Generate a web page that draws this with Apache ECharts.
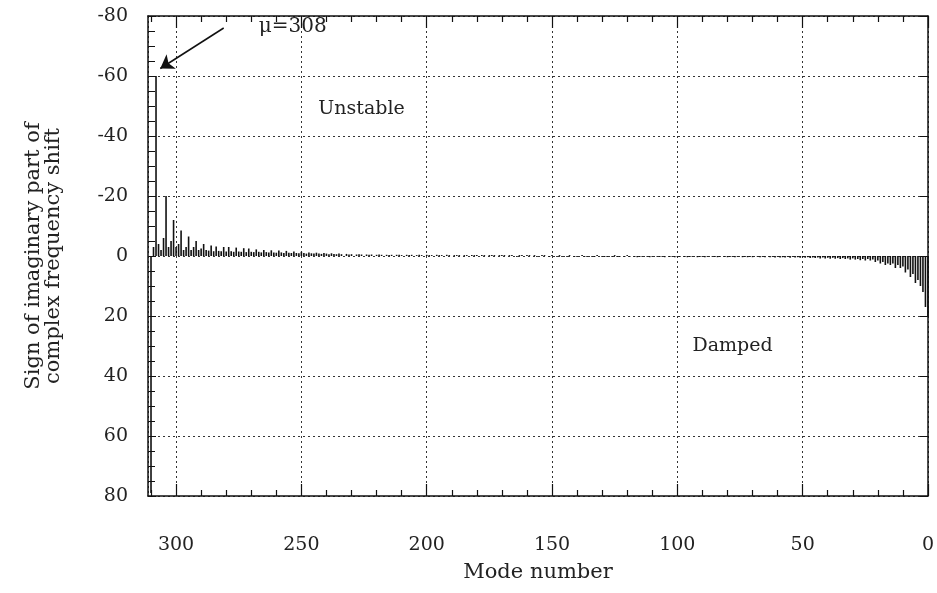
<!DOCTYPE html>
<html>
<head>
<meta charset="utf-8">
<script src="https://cdn.jsdelivr.net/npm/echarts@6/dist/echarts.min.js"></script>
<style>
html,body{margin:0;padding:0;background:#fff;}
#chart{width:937px;height:593px;}
</style>
</head>
<body>
<div id="chart"></div>
<script>
// Imaginary part of complex frequency shift, indexed by mode number (index 0 = mode 0)
const modeShift = [
  20, 17, 12, 10, 8, 9, 6, 7, 4.5, 5.5,
  3.5, 4, 3, 4, 2.5, 3, 2.5, 3, 2, 2.5,
  1.5, 2, 1.2, 1.5, 1, 1.5, 1, 1.4, 1, 1.2,
  0.8, 1.2, 0.8, 1, 0.7, 1, 0.7, 0.9, 0.6, 0.9,
  0.6, 0.8, 0.5, 0.8, 0.5, 0.7, 0.5, 0.7, 0.4, 0.6,
  0.4, 0.6, 0.4, 0.5, 0.3, 0.6, 0.3, 0.5, 0.4, 0.5,
  0.3, 0.5, 0.3, 0.4, 0, 0.4, 0.3, 0.4, 0.3, 0,
  0.4, 0.3, 0.4, 0.3, 0.4, 0, 0.3, 0.4, 0.3, 0.3,
  0.4, 0.3, 0, 0.3, 0.4, 0.3, 0.3, 0, 0.3, 0.4,
  0.3, 0.3, 0.4, 0, 0.3, 0.3, 0.4, 0.3, 0, 0.3,
  0.3, 0.4, 0.3, 0.3, 0, 0.4, 0.3, 0.3, 0.3, 0,
  0.3, 0.4, 0.3, 0, 0.3, 0.3, 0.4, 0.3, 0, 0.3,
  -0.3, 0.3, 0, 0.3, 0.3, -0.3, 0.3, 0, 0.3, 0.3,
  0.3, 0, -0.3, 0.3, 0.3, 0, 0.3, 0.3, -0.3, 0,
  0.3, 0.3, 0, -0.3, 0.3, 0, 0.3, -0.3, 0.3, 0,
  -0.3, 0.3, 0, -0.3, -0.3, 0, 0.3, -0.3, 0, -0.3,
  -0.3, 0, -0.3, -0.3, 0.3, 0, -0.3, -0.3, 0, -0.3,
  -0.3, -0.3, 0, -0.3, -0.3, -0.3, 0, -0.3, -0.3, 0,
  -0.3, -0.3, -0.3, 0, -0.3, -0.3, 0, -0.3, -0.3, -0.3,
  0, -0.3, -0.4, 0, -0.3, -0.3, -0.4, 0, -0.3, -0.3,
  -0.4, 0, -0.3, -0.4, -0.3, 0, -0.4, -0.3, -0.4, 0,
  -0.3, -0.4, -0.4, 0, -0.4, -0.3, -0.4, 0, -0.4, -0.5,
  -0.4, 0, -0.5, -0.4, -0.5, 0, -0.5, -0.6, -0.5, 0,
  -0.6, -0.5, -0.7, 0, -0.6, -0.8, -0.6, -0.7, -0.9, -0.6,
  -0.8, -1, -0.7, -0.8, -1.1, -0.8, -0.9, -1.2, -0.8, -1,
  -1.4, -0.9, -1, -1.5, -1, -1.1, -1.7, -1, -1.2, -1.8,
  -1.1, -1.2, -1.9, -1.2, -1.3, -2, -1.2, -1.4, -2.2, -1.3,
  -1.4, -2.5, -1.3, -2.6, -1.4, -1.5, -2.8, -1.4, -1.6, -3,
  -1.5, -3, -1.6, -1.7, -3.2, -1.6, -3.5, -1.8, -2, -4,
  -2.5, -2, -5, -3, -2, -6.5, -3, -2, -8.5, -4,
  -3, -12, -5, -3, -20, -6, -2, -4, -60, -3,
  79, 0
];

const xRange = [0, 311.2];
const yRange = [-80, 80];
const xTickStep = 50;
const yTickStep = 20;

// Tick positions on the top and bottom frame (mode numbers)
const majorTickModes = [0, 50, 100, 150, 200, 250, 300];
const minorTickModes = [10, 20, 30, 40, 60, 70, 80, 90, 110, 120, 130, 140, 160, 170, 180, 190,
                        210, 220, 230, 240, 260, 270, 280, 290, 310];
const majorTickLen = 4;   // in y data units
const minorTickLen = 2;

// Annotations (in data coordinates)
const peakLabel = { text: 'μ=308', mode: 267, value: -76.5 };
const arrowFrom = [281, -76];
const arrowTo = [306.3, -62.5];
const unstableLabel = { text: 'Unstable', mode: 226, value: -49 };
const dampedLabel = { text: 'Damped', mode: 78, value: 30 };

const FONT = 'DejaVu Serif';
const INK = '#222';

const chart = echarts.init(document.getElementById('chart'), null, { renderer: 'canvas' });

const gridStyle = { show: true, lineStyle: { color: '#333', type: [2, 3], width: 1 } };
const axisLine = { show: true, onZero: false, lineStyle: { color: '#111', width: 1.5 } };

function frameTicks(modes, len) {
  const out = [];
  modes.forEach(m => {
    out.push([{ coord: [m, yRange[1]] }, { coord: [m, yRange[1] - len] }]);
    out.push([{ coord: [m, yRange[0]] }, { coord: [m, yRange[0] + len] }]);
  });
  return out;
}

const option = {
  animation: false,
  backgroundColor: '#fff',
  grid: { left: 148, right: 9, top: 16, bottom: 97, containLabel: false },
  xAxis: [
    {
      type: 'value', position: 'bottom', inverse: true,
      min: xRange[0], max: xRange[1], interval: xTickStep,
      name: 'Mode number', nameLocation: 'middle', nameGap: 66,
      nameTextStyle: { fontFamily: FONT, fontSize: 21, color: INK },
      axisLine: axisLine,
      axisTick: { show: false },
      axisLabel: {
        margin: 40, fontFamily: FONT, fontSize: 19, color: INK, showMaxLabel: false,
        formatter: v => (v % xTickStep === 0 ? String(v) : '')
      },
      splitLine: gridStyle
    },
    {
      type: 'value', position: 'top', inverse: true,
      min: xRange[0], max: xRange[1], interval: xTickStep,
      axisLine: axisLine,
      axisTick: { show: false },
      axisLabel: { show: false },
      splitLine: { show: false }
    }
  ],
  yAxis: [
    {
      type: 'value', position: 'left', inverse: true,
      min: yRange[0], max: yRange[1], interval: yTickStep,
      name: 'Sign of imaginary part of\ncomplex frequency shift',
      nameLocation: 'middle', nameGap: 84, nameRotate: 90,
      nameTextStyle: { fontFamily: FONT, fontSize: 21, color: INK, lineHeight: 20 },
      axisLine: axisLine,
      axisTick: { show: true, inside: true, length: 8, lineStyle: { color: '#111' } },
      minorTick: { show: true, splitNumber: 4, length: 7, lineStyle: { color: '#111' } },
      axisLabel: { margin: 20, fontFamily: FONT, fontSize: 19, color: INK },
      splitLine: gridStyle
    },
    {
      type: 'value', position: 'right', inverse: true,
      min: yRange[0], max: yRange[1], interval: yTickStep,
      axisLine: axisLine,
      axisTick: { show: true, inside: true, length: 8, lineStyle: { color: '#111' } },
      minorTick: { show: false },
      axisLabel: { show: false },
      splitLine: { show: false }
    }
  ],
  series: [
    {
      type: 'bar',
      xAxisIndex: 0, yAxisIndex: 0,
      barWidth: 1.6,
      itemStyle: { color: '#111' },
      data: modeShift.map((v, i) => [i, v]),
      markLine: {
        silent: true,
        symbol: ['none', 'arrow'],
        symbolSize: 13,
        lineStyle: { color: '#111', width: 1.5, type: 'solid' },
        label: { show: false },
        data: [[{ coord: arrowFrom }, { coord: arrowTo }]]
      },
      markPoint: {
        silent: true,
        symbol: 'circle', symbolSize: 0,
        data: [
          { coord: [peakLabel.mode, peakLabel.value],
            label: { show: true, formatter: peakLabel.text, position: 'right', distance: 0,
              fontFamily: FONT, fontSize: 20, color: INK } },
          { coord: [unstableLabel.mode, unstableLabel.value],
            label: { show: true, formatter: unstableLabel.text, position: 'inside',
              fontFamily: FONT, fontSize: 19, color: INK } },
          { coord: [dampedLabel.mode, dampedLabel.value],
            label: { show: true, formatter: dampedLabel.text, position: 'inside',
              fontFamily: FONT, fontSize: 19, color: INK } }
        ]
      }
    },
    {
      type: 'line',
      xAxisIndex: 0, yAxisIndex: 0,
      data: [],
      silent: true,
      markLine: {
        silent: true,
        symbol: ['none', 'none'],
        lineStyle: { color: '#111', width: 1.2, type: 'solid' },
        label: { show: false },
        data: frameTicks(majorTickModes, majorTickLen).concat(frameTicks(minorTickModes, minorTickLen))
      }
    }
  ]
};

chart.setOption(option);
</script>
</body>
</html>
